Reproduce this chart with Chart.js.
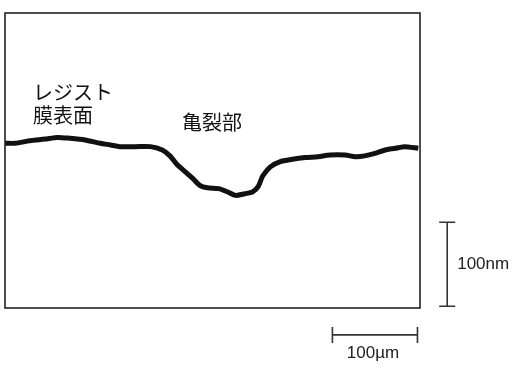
<!DOCTYPE html>
<html lang="ja">
<head>
<meta charset="utf-8">
<style>
    body { margin: 0; background: #fff; }
    #wrap { width: 517px; height: 370px; position: relative; }
</style>
</head>
<body>
<div id="wrap"><canvas id="profileChart"></canvas></div>
<script src="https://cdn.jsdelivr.net/npm/chart.js"></script>
<script>
    // 表面プロファイル (x: μm, y: nm)
    const profileX = [0, 12, 29, 47, 62, 76, 94, 112, 124, 135, 153, 171, 185, 194, 202, 212, 221, 229, 238, 251, 262, 271, 282, 291, 298, 303, 312, 323, 338, 353, 368, 382, 400, 412, 423, 435, 447, 459, 470, 486];
    const profileY = [196, 196, 199, 201, 203, 202, 200, 196, 194, 192, 192, 192, 188, 181, 171, 162, 154, 146, 143, 142, 138, 134, 136, 138, 145, 157, 168, 174, 177, 179, 180, 182, 182, 180, 181, 184, 188, 190, 192, 190];

    // 軸の範囲
    const xRange = [0, 488];
    const yRange = [0, 351];

    // スケールバー
    const barNm = { label: '100nm', x: 520, from: 2, to: 102 };
    const barUm = { label: '100\u00b5m', y: -32, from: 385, to: 485 };

    // 注記
    const notes = [
        { text: 'レジスト', x: 33, y: 256 },
        { text: '膜表面', x: 33, y: 229 },
        { text: '亀裂部', x: 208, y: 221 }
    ];

    const points = profileX.map((x, i) => ({ x: x, y: profileY[i] }));

    // 枠・スケールバー・注記を描く
    const decorPlugin = {
        id: 'decor',
        afterDraw(chart) {
            const ctx = chart.ctx;
            const area = chart.chartArea;
            const xs = chart.scales.x;
            const ys = chart.scales.y;
            ctx.save();

            ctx.strokeStyle = '#222';
            ctx.lineWidth = 1.6;
            ctx.strokeRect(area.left, area.top, area.right - area.left, area.bottom - area.top);

            // 縦スケール (100nm)
            const vx = xs.getPixelForValue(barNm.x);
            const vTop = ys.getPixelForValue(barNm.to);
            const vBot = ys.getPixelForValue(barNm.from);
            ctx.strokeStyle = '#333';
            ctx.lineWidth = 1.6;
            ctx.beginPath();
            ctx.moveTo(vx, vTop); ctx.lineTo(vx, vBot);
            ctx.moveTo(vx - 8, vTop); ctx.lineTo(vx + 8, vTop);
            ctx.moveTo(vx - 8, vBot); ctx.lineTo(vx + 8, vBot);
            ctx.stroke();

            // 横スケール (100μm)
            const hy = ys.getPixelForValue(barUm.y);
            const hL = xs.getPixelForValue(barUm.from);
            const hR = xs.getPixelForValue(barUm.to);
            ctx.beginPath();
            ctx.moveTo(hL, hy); ctx.lineTo(hR, hy);
            ctx.moveTo(hL, hy - 8); ctx.lineTo(hL, hy + 8);
            ctx.moveTo(hR, hy - 8); ctx.lineTo(hR, hy + 8);
            ctx.stroke();

            ctx.fillStyle = '#222';
            ctx.font = '17px "Liberation Sans", Arial, sans-serif';
            ctx.textBaseline = 'middle';
            ctx.textAlign = 'left';
            ctx.fillText(barNm.label, vx + 10, (vTop + vBot) / 2);
            ctx.textAlign = 'center';
            ctx.fillText(barUm.label, (hL + hR) / 2 - 2, hy + 18);

            ctx.fillStyle = '#111';
            ctx.font = '20px "Noto Sans CJK JP", sans-serif';
            ctx.textAlign = 'left';
            notes.forEach(n => {
                ctx.fillText(n.text, xs.getPixelForValue(n.x), ys.getPixelForValue(n.y));
            });
            ctx.restore();
        }
    };

    new Chart(document.getElementById('profileChart'), {
        type: 'line',
        data: {
            datasets: [{
                data: points,
                borderColor: '#111',
                borderWidth: 5,
                pointRadius: 0,
                tension: 0.25,
                fill: false
            }]
        },
        options: {
            responsive: true,
            maintainAspectRatio: false,
            animation: false,
            layout: { padding: { left: 5, top: 13, right: 97, bottom: 62 } },
            plugins: { legend: { display: false }, tooltip: { enabled: false } },
            scales: {
                x: { type: 'linear', min: xRange[0], max: xRange[1], display: false },
                y: { type: 'linear', min: yRange[0], max: yRange[1], display: false }
            }
        },
        plugins: [decorPlugin]
    });
</script>
</body>
</html>
